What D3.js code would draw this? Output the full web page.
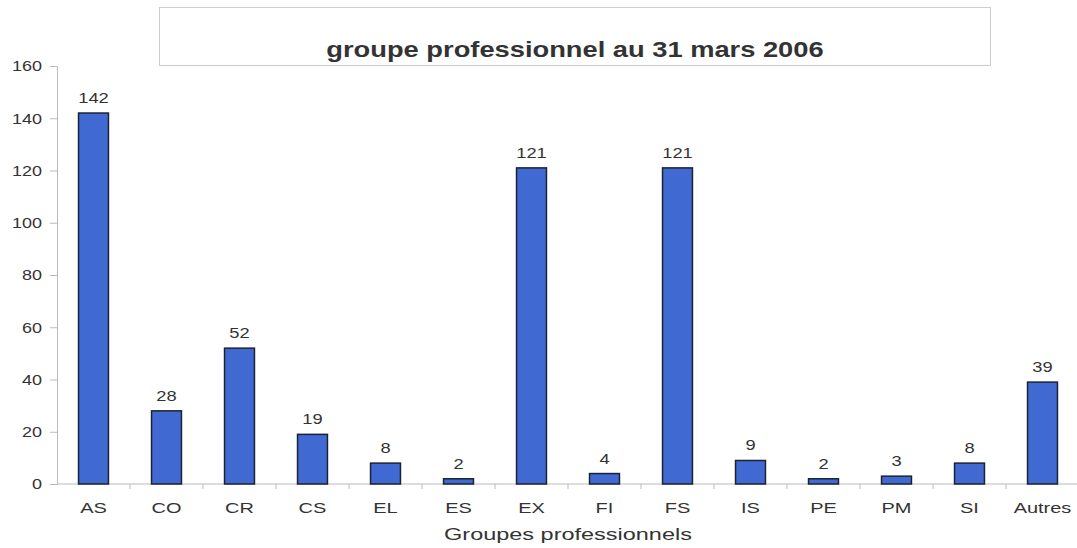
<!DOCTYPE html>
<html>
<head>
<meta charset="utf-8">
<script src="https://cdn.jsdelivr.net/npm/d3@7"></script>
<style>
  body { margin: 0; background: #fff; }
  svg { display: block; font-family: Arial, "Liberation Sans", sans-serif; }
</style>
</head>
<body>
<svg id="chart" width="1077" height="548"></svg>
<script>
// Effectifs par groupe professionnel
const categories = ["AS", "CO", "CR", "CS", "EL", "ES", "EX", "FI", "FS", "IS", "PE", "PM", "SI", "Autres"];
const values = [142, 28, 52, 19, 8, 2, 121, 4, 121, 9, 2, 3, 8, 39];
const yTicks = [0, 20, 40, 60, 80, 100, 120, 140, 160];
const titleText = "groupe professionnel au 31 mars 2006";
const xAxisTitle = "Groupes professionnels";

const svg = d3.select("#chart");

// Widen text horizontally (the chart's typeface runs wider than Arial)
function widen(sel, factor) {
  sel.each(function () {
    const w = this.getComputedTextLength();
    d3.select(this).attr("textLength", w * factor).attr("lengthAdjust", "spacingAndGlyphs");
  });
}

const x = d3.scaleBand().domain(categories).range([57, 1079]).paddingInner(0.59).paddingOuter(0.295);
const y = d3.scaleLinear().domain([0, 160]).range([484, 66]);

// Title box
svg.append("rect")
  .attr("x", 159.5).attr("y", 7.5).attr("width", 831).attr("height", 58)
  .attr("fill", "#fff").attr("stroke", "#c8cfd2").attr("stroke-width", 1);
svg.append("text")
  .attr("x", 575).attr("y", 57)
  .attr("text-anchor", "middle")
  .attr("font-size", 22).attr("font-weight", "bold").attr("fill", "#333")
  .text(titleText)
  .call(widen, 1.24);

// Y axis
const yAxis = svg.append("g").attr("transform", "translate(57,0)")
  .call(d3.axisLeft(y).tickValues(yTicks).tickSize(7).tickPadding(8));
yAxis.select(".domain").attr("stroke", "#bbb");
yAxis.selectAll(".tick line").attr("stroke", "#bbb");
yAxis.selectAll(".tick text").attr("font-size", 15).attr("fill", "#333")
  .attr("font-family", "Arial, 'Liberation Sans', sans-serif")
  .call(widen, 1.2);

// X axis with ticks between categories
const xAxisG = svg.append("g").attr("transform", "translate(0,484)");
xAxisG.append("line").attr("x1", 57).attr("x2", 1079).attr("y1", 0).attr("y2", 0).attr("stroke", "#bbb");
const step = x.step();
const boundaries = categories.map(c => x(c) + x.bandwidth() / 2 + step / 2);
xAxisG.selectAll("line.tk").data(boundaries).join("line")
  .attr("class", "tk")
  .attr("x1", d => d).attr("x2", d => d).attr("y1", 0).attr("y2", 5).attr("stroke", "#bbb");
xAxisG.selectAll("text").data(categories).join("text")
  .attr("x", d => x(d) + x.bandwidth() / 2).attr("y", 29)
  .attr("text-anchor", "middle").attr("font-size", 15).attr("fill", "#333")
  .text(d => d)
  .call(widen, 1.33);

svg.append("text")
  .attr("x", 568).attr("y", 540)
  .attr("text-anchor", "middle").attr("font-size", 17).attr("fill", "#333")
  .text(xAxisTitle)
  .call(widen, 1.38);

// Bars
const data = categories.map((c, i) => ({ c, v: values[i] }));
svg.append("g").selectAll("rect").data(data).join("rect")
  .attr("x", d => x(d.c)).attr("width", x.bandwidth())
  .attr("y", d => y(d.v)).attr("height", d => y(0) - y(d.v))
  .attr("fill", "#4169d2").attr("stroke", "#1c2233").attr("stroke-width", 1.5);

// Value labels
svg.append("g").selectAll("text").data(data).join("text")
  .attr("x", d => x(d.c) + x.bandwidth() / 2).attr("y", d => y(d.v) - 10)
  .attr("text-anchor", "middle").attr("font-size", 15).attr("fill", "#333")
  .text(d => d.v)
  .call(widen, 1.22);
</script>
</body>
</html>
